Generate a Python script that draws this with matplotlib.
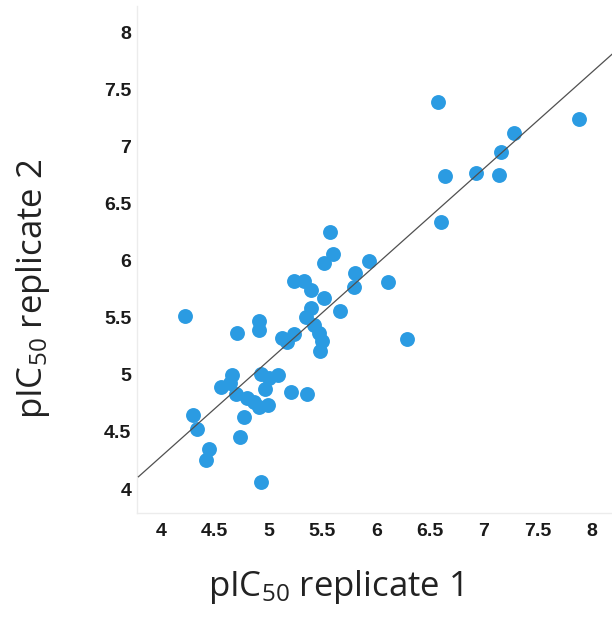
import numpy as np
import matplotlib
matplotlib.use("Agg")
from matplotlib import pyplot as plt

# pIC50 values
rep1 = [6.57, 7.88, 7.28, 7.16, 6.93, 7.14, 6.64, 6.60, 5.57, 5.60,
        5.51, 5.93, 5.80, 5.79, 6.11, 5.24, 5.33, 5.39, 5.51, 5.66,
        5.39, 5.35, 5.42, 5.47, 5.50, 5.48, 5.24, 5.17, 5.12, 6.29,
        4.22, 4.91, 4.91, 4.71, 4.66, 4.64, 4.56, 4.70, 4.80, 4.86,
        4.91, 4.99, 4.93, 4.97, 5.00, 5.09, 5.21, 5.36, 4.30, 4.33,
        4.77, 4.73, 4.45, 4.42, 4.93]
rep2 = [7.39, 7.24, 7.12, 6.95, 6.77, 6.75, 6.74, 6.34, 6.25, 6.06,
        5.98, 6.00, 5.89, 5.77, 5.81, 5.82, 5.82, 5.74, 5.67, 5.56,
        5.59, 5.51, 5.44, 5.37, 5.30, 5.21, 5.36, 5.29, 5.32, 5.31,
        5.52, 5.47, 5.39, 5.37, 5.00, 4.93, 4.89, 4.83, 4.80, 4.76,
        4.72, 4.74, 5.01, 4.88, 4.97, 5.00, 4.85, 4.83, 4.65, 4.53,
        4.63, 4.46, 4.35, 4.25, 4.06]
fit_slope = 0.841
fit_intercept = 0.92
ticks = [4, 4.5, 5, 5.5, 6, 6.5, 7, 7.5, 8]
tick_labels = ["4", "4.5", "5", "5.5", "6", "6.5", "7", "7.5", "8"]

plt.rcParams["mathtext.fontset"] = "custom"
plt.rcParams["mathtext.rm"] = "Open Sans"
plt.rcParams["mathtext.it"] = "Open Sans"

fig = plt.figure(figsize=(6.12, 6.25), dpi=100)
ax = fig.add_axes([0.2239, 0.1792, 0.776, 0.811])

ax.scatter(rep1, rep2, s=115, color="#2b9be2", linewidths=0, zorder=2)

xfit = np.array([3.79, 8.4])
ax.plot(xfit, fit_slope * xfit + fit_intercept, color="#505050", lw=0.9, zorder=3)

ax.set_xlim(3.777, 8.19)
ax.set_ylim(3.79, 8.23)
ax.set_xticks(ticks)
ax.set_xticklabels(tick_labels)
ax.set_yticks(ticks)
ax.set_yticklabels(tick_labels)
ax.tick_params(axis="both", length=0, labelsize=14)
ax.tick_params(axis="x", pad=7)
ax.tick_params(axis="y", pad=4)
for lab in ax.get_xticklabels() + ax.get_yticklabels():
    lab.set_family("Liberation Sans")
    lab.set_fontweight("bold")
    lab.set_color("#1a1a1a")

for side in ["top", "right"]:
    ax.spines[side].set_visible(False)
for side in ["left", "bottom"]:
    ax.spines[side].set_color("#ececec")
    ax.spines[side].set_linewidth(1)

ax.set_xlabel(r"pIC$_{50}$ replicate 1", family="Open Sans", fontsize=25,
              color="#222222", va="center")
ax.xaxis.set_label_coords(0.417, -0.146)
ax.set_ylabel(r"pIC$_{50}$ replicate 2", family="Open Sans", fontsize=25,
              color="#222222", va="center")
ax.yaxis.set_label_coords(-0.219, 0.442)

fig.savefig("out.png", dpi=100)
